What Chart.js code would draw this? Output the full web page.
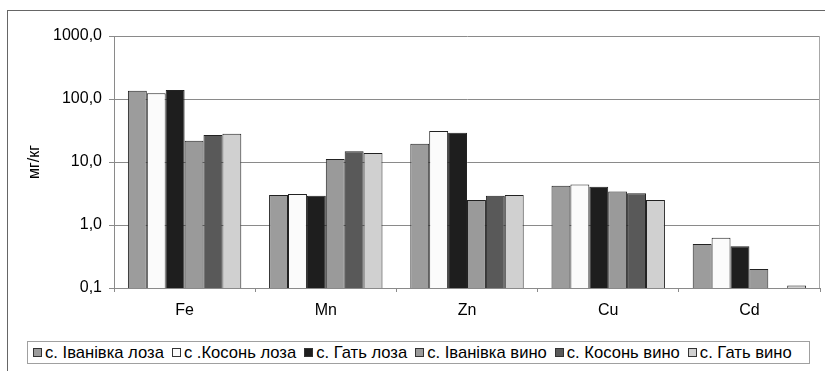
<!DOCTYPE html>
<html>
<head>
<meta charset="utf-8">
<script src="https://cdn.jsdelivr.net/npm/chart.js@4/dist/chart.umd.min.js"></script>
<style>
  html, body { margin: 0; padding: 0; background: #fff; }
  #frame { position: absolute; left: 7px; top: 10px; width: 900px; height: 500px; border: 1px solid #666; box-sizing: border-box; }
  #wrap { position: absolute; left: 0; top: 0; width: 825px; height: 371px; }
  #legend { position: absolute; left: 27px; top: 341px; width: 783px; height: 23px; border: 1px solid #a0a0a0; box-sizing: border-box; background: #fff;
            display: flex; align-items: center; padding-left: 5px; font: 16.6px "Liberation Sans", Arial, sans-serif; color: #000; white-space: nowrap; }
  .item { display: flex; align-items: center; margin-right: 8px; }
  .sw { width: 7px; height: 7px; border: 1px solid #333; margin-right: 3px; }
</style>
</head>
<body>
<div id="frame"></div>
<div id="wrap"><canvas id="c" width="825" height="371"></canvas></div>
<div id="legend"></div>
<script>
// Elements measured (mg/kg), log scale
const elements = ['Fe', 'Mn', 'Zn', 'Cu', 'Cd'];
const seriesNames = ['с. Іванівка лоза', 'с .Косонь лоза', 'с. Гать лоза', 'с. Іванівка вино', 'с. Косонь вино', 'с. Гать вино'];

const ivanivkaLoza = [135, 3.0, 19.5, 4.2, 0.50];
const kosonLoza    = [123, 3.1, 31.0, 4.4, 0.63];
const gatLoza      = [139, 2.9, 29.0, 4.05, 0.46];
const ivanivkaVyno = [21.8, 11.2, 2.5, 3.4, 0.20];
const kosonVyno    = [26.8, 14.8, 2.9, 3.2, null];
const gatVyno      = [28.1, 13.9, 3.0, 2.5, 0.11];

const yTicks = [0.1, 1, 10, 100, 1000];
const yTitle = 'мг/кг';

const fills = ['#9c9c9c', '#fbfbfb', '#1e1e1e', '#9a9a9a', '#595959', '#d0d0d0'];
const seriesValues = [ivanivkaLoza, kosonLoza, gatLoza, ivanivkaVyno, kosonVyno, gatVyno];

const FONT = '"Liberation Sans", Arial, sans-serif';
const AXIS = '#8a8a8a';

// thin border on the right side of the plot area
const plotFrame = {
  id: 'plotFrame',
  beforeDatasetsDraw(chart) {
    const { ctx, chartArea: a } = chart;
    ctx.save();
    ctx.strokeStyle = '#a8a8a8';
    ctx.lineWidth = 1;
    ctx.beginPath();
    ctx.moveTo(Math.round(a.right) - 0.5, a.top);
    ctx.lineTo(Math.round(a.right) - 0.5, a.bottom);
    ctx.stroke();
    ctx.restore();
  }
};

const chart = new Chart(document.getElementById('c'), {
  type: 'bar',
  data: {
    labels: elements,
    datasets: seriesNames.map((name, i) => ({
      label: name,
      data: seriesValues[i],
      backgroundColor: fills[i],
      borderColor: '#222',
      borderWidth: 1,
      categoryPercentage: 0.803,
      barPercentage: 1.0
    }))
  },
  options: {
    responsive: false,
    animation: false,
    layout: { padding: { top: 36, right: 5, left: 0, bottom: 0 } },
    plugins: { legend: { display: false }, tooltip: { enabled: false } },
    scales: {
      x: {
        grid: { offset: true, drawOnChartArea: false, color: AXIS, tickLength: 4 },
        border: { color: AXIS },
        ticks: { color: '#000', font: { family: FONT, size: 16 }, padding: 9 },
        afterFit(s) { s.height = 83; }
      },
      y: {
        type: 'logarithmic',
        min: 0.1,
        max: 1000,
        afterBuildTicks(s) { s.ticks = yTicks.map(v => ({ value: v })); },
        grid: { color: AXIS, tickLength: 5 },
        border: { color: AXIS },
        ticks: {
          color: '#000', font: { family: FONT, size: 16 }, padding: 7,
          callback: v => Number(v).toFixed(1).replace('.', ',')
        },
        title: { display: true, text: yTitle, color: '#000', font: { family: FONT, size: 16 }, padding: { top: 25, bottom: 0 } },
        afterFit(s) { s.width = 114; }
      }
    }
  },
  plugins: [plotFrame]
});

// legend built from the chart's datasets
const legend = document.getElementById('legend');
chart.data.datasets.forEach(ds => {
  const item = document.createElement('div');
  item.className = 'item';
  const sw = document.createElement('span');
  sw.className = 'sw';
  sw.style.background = ds.backgroundColor;
  const tx = document.createElement('span');
  tx.textContent = ds.label;
  item.appendChild(sw);
  item.appendChild(tx);
  legend.appendChild(item);
});
</script>
</body>
</html>
